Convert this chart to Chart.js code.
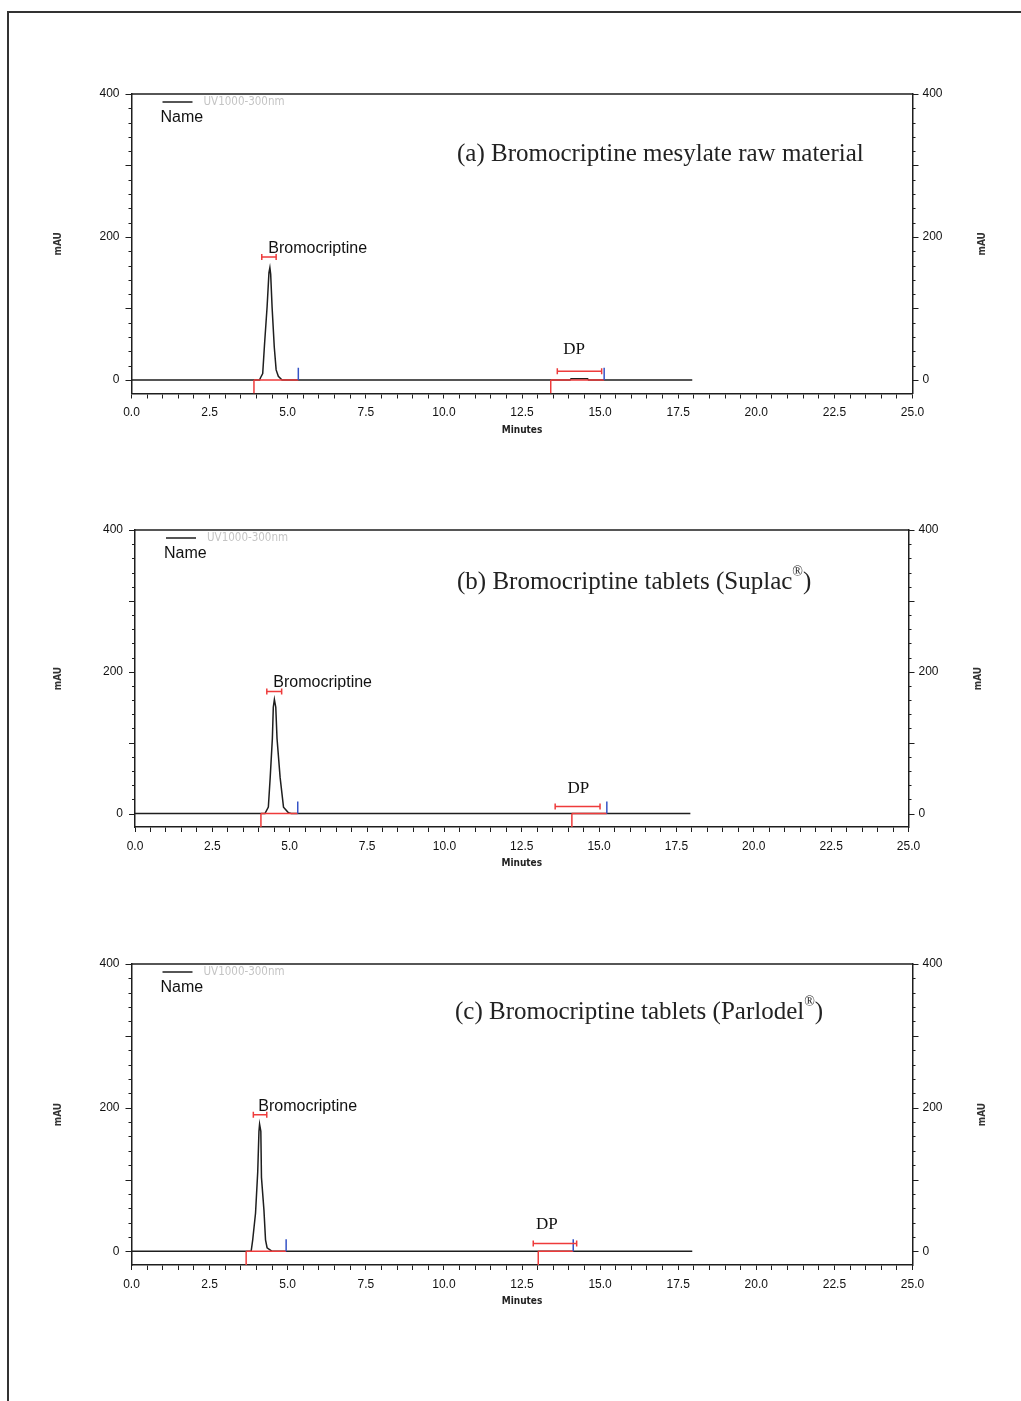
<!DOCTYPE html>
<html>
<head>
<meta charset="utf-8">
<script src="https://cdn.jsdelivr.net/npm/chart.js@4.4.1/dist/chart.umd.min.js"></script>
<style>
  body { margin: 0; background: #fff; width: 1021px; height: 1401px; overflow: hidden; position: relative; }
  #frame { position: absolute; left: 7px; top: 11px; width: 1100px; height: 1500px;
           border-left: 2px solid #333; border-top: 2px solid #333; }
  canvas { position: absolute; left: 0; }
  .cap { position: absolute; font-family: 'Liberation Serif', 'Times New Roman', serif; font-size: 25px;
         color: #222; white-space: nowrap; line-height: 1; z-index: 2; }
  .cap sup { font-size: 14px; vertical-align: top; position: relative; top: -3px; }
</style>
</head>
<body>
<div id="frame"></div>
<canvas id="chartA" width="1021" height="380" style="top:60px"></canvas>
<canvas id="chartB" width="1021" height="373" style="top:500px"></canvas>
<canvas id="chartC" width="1021" height="381" style="top:930px"></canvas>
<div class="cap" style="left:457px;top:140px">(a) Bromocriptine mesylate raw material</div>
<div class="cap" style="left:457px;top:568px">(b) Bromocriptine tablets (Suplac<sup>®</sup>)</div>
<div class="cap" style="left:455px;top:998px">(c) Bromocriptine tablets (Parlodel<sup>®</sup>)</div>

<script>
// common axis ranges
const X_MIN = 0, X_MAX = 25;
const Y_MIN = -19, Y_MAX = 400;
const yLabelTicks = [0, 200, 400];
const peakNames = ['Bromocriptine', 'DP'];

// (a) raw material: detector trace (min, mAU)
const timeA = [0, 4.10, 4.13, 4.20, 4.26, 4.34, 4.40, 4.43, 4.455, 4.50, 4.57, 4.63, 4.70, 4.82, 14.04, 14.07, 14.60, 14.63, 17.95];
const absA  = [0, 0, 3, 9, 51, 102, 150, 157, 148, 102, 46, 14, 5, 0, 0, 1.5, 1.5, 0, 0];
const peakStartA = [3.92, 13.42];
const peakEndA   = [5.34, 15.13];
const bracketLoA = [4.17, 13.63];
const bracketHiA = [4.63, 15.05];
const bracketYA  = [172, 12];
const labelXA    = [4.38, 13.82];
const labelYA    = [184, 43];

// (b) Suplac tablets
const timeB = [0, 4.20, 4.31, 4.37, 4.44, 4.47, 4.505, 4.55, 4.59, 4.69, 4.80, 4.96, 5.05, 17.95];
const absB  = [0, 0, 9, 51, 106, 150, 161, 150, 106, 51, 9, 1, 0, 0];
const peakStartB = [4.07, 14.12];
const peakEndB   = [5.26, 15.25];
const bracketLoB = [4.26, 13.58];
const bracketHiB = [4.74, 15.03];
const bracketYB  = [172, 10];
const labelXB    = [4.47, 13.98];
const labelYB    = [185, 35];

// (c) Parlodel tablets
const timeC = [0, 3.83, 3.88, 3.97, 4.04, 4.08, 4.10, 4.14, 4.16, 4.24, 4.29, 4.34, 4.50, 17.95];
const absC  = [0, 0, 16, 53, 110, 167, 177, 167, 103, 57, 16, 5, 0, 0];
const peakStartC = [3.67, 13.02];
const peakEndC   = [4.95, 14.14];
const bracketLoC = [3.90, 12.86];
const bracketHiC = [4.33, 14.25];
const bracketYC  = [190, 11];
const labelXC    = [4.06, 12.95];
const labelYC    = [202, 38];

const RED = '#ee3b3b';
const BLUE = '#3553c6';
const INK = '#1e1e1e';

function points(xs, ys) {
  return xs.map((t, i) => ({ x: t, y: ys[i] }));
}

// vertical segments at each time, separated by gaps
function verticals(times, y0, y1) {
  return times.flatMap(t => [{ x: t, y: y0 }, { x: t, y: y1 }, { x: t, y: null }]);
}

// horizontal segments from lo[i] to hi[i] at level ys (number or array)
function horizontals(lo, hi, ys) {
  return lo.flatMap((t, i) => {
    const lev = Array.isArray(ys) ? ys[i] : ys;
    return [{ x: t, y: lev }, { x: hi[i], y: lev }, { x: hi[i], y: null }];
  });
}

// frame edge, y tick marks, legend, peak names, right axis title
const decor = {
  id: 'decor',
  afterDraw(chart, args, o) {
    const { ctx, chartArea: a, scales: { x, y } } = chart;
    ctx.save();
    ctx.strokeStyle = INK;
    ctx.lineWidth = 1.5;
    ctx.beginPath();
    ctx.moveTo(a.left, a.top);
    ctx.lineTo(a.right, a.top);
    ctx.stroke();

    ctx.lineWidth = 1;
    for (let v = 0; v <= Y_MAX; v += 20) {
      const py = Math.round(y.getPixelForValue(v)) + 0.5;
      const len = v % 100 === 0 ? 6 : 3;
      ctx.beginPath();
      ctx.moveTo(a.left - len, py); ctx.lineTo(a.left, py);
      ctx.moveTo(a.right, py); ctx.lineTo(a.right + len, py);
      ctx.stroke();
    }

    // legend entry
    ctx.lineWidth = 1.5;
    ctx.beginPath();
    ctx.moveTo(a.left + 31, a.top + 8);
    ctx.lineTo(a.left + 61, a.top + 8);
    ctx.stroke();
    ctx.textBaseline = 'middle';
    ctx.textAlign = 'left';
    ctx.fillStyle = '#c4c4c4';
    ctx.font = "11.5px 'Liberation Sans Narrow', 'DejaVu Sans Condensed', sans-serif";
    ctx.fillText('UV1000-300nm', a.left + 72, a.top + 8);
    ctx.fillStyle = '#111';
    ctx.font = "16px 'Liberation Sans', Arial, sans-serif";
    ctx.fillText('Name', a.left + 29, a.top + 24);

    // peak names
    peakNames.forEach((name, i) => {
      ctx.font = i === 0 ? "16px 'Liberation Sans', Arial, sans-serif"
                         : "17px 'Liberation Serif', 'Times New Roman', serif";
      ctx.fillText(name, x.getPixelForValue(o.labelX[i]), y.getPixelForValue(o.labelY[i]));
    });

    // right axis title
    ctx.font = "bold 10px 'Liberation Sans Narrow', 'DejaVu Sans Condensed', sans-serif";
    ctx.fillStyle = '#333';
    ctx.textAlign = 'center';
    ctx.translate(a.right + 70, (a.top + a.bottom) / 2);
    ctx.rotate(-Math.PI / 2);
    ctx.fillText('mAU', 0, 0);
    ctx.restore();
  }
};

function makePanel(id, box, d) {
  const canvas = document.getElementById(id);
  const W = canvas.width;
  const tickFont = { family: "'Liberation Sans', Arial, sans-serif", size: 12 };

  const yAxis = (pos, width, pad) => ({
    type: 'linear',
    position: pos,
    min: Y_MIN,
    max: Y_MAX,
    afterBuildTicks: s => { s.ticks = yLabelTicks.map(v => ({ value: v })); },
    afterFit: s => { s.width = width; },
    grid: { display: false, drawTicks: false },
    border: { display: true, color: INK, width: 1.5 },
    ticks: { padding: pad, color: '#111', font: tickFont, autoSkip: false }
  });

  const left = yAxis('left', box.left, 12);
  left.title = {
    display: true, text: 'mAU', color: '#333',
    font: { family: "'Liberation Sans Narrow', 'DejaVu Sans Condensed', sans-serif", size: 10, weight: 'bold' },
    padding: { top: 52, bottom: 0 }
  };

  new Chart(canvas, {
    type: 'line',
    data: {
      datasets: [
        { data: horizontals(d.bracketLo, d.bracketHi, d.bracketY), borderColor: RED, borderWidth: 1.5,
          pointStyle: 'line', rotation: 90, pointRadius: 3, pointBorderColor: RED, pointBorderWidth: 1.5 },
        { data: verticals(d.peakEnd, 0, 17), borderColor: BLUE, borderWidth: 1.5, pointRadius: 0 },
        { data: verticals(d.peakStart, 0, Y_MIN), borderColor: RED, borderWidth: 1.5, pointRadius: 0 },
        { data: horizontals(d.peakStart, d.peakEnd, 0), borderColor: RED, borderWidth: 1.5, pointRadius: 0 },
        { data: points(d.time, d.abs), borderColor: INK, borderWidth: 1.5, pointRadius: 0 }
      ]
    },
    options: {
      responsive: false,
      animation: false,
      spanGaps: false,
      layout: { padding: { top: box.top, left: 0, right: 0, bottom: 0 } },
      plugins: {
        legend: { display: false },
        tooltip: { enabled: false },
        decor: { labelX: d.labelX, labelY: d.labelY }
      },
      scales: {
        x: {
          type: 'linear',
          min: X_MIN,
          max: X_MAX,
          afterFit: s => { s.height = box.xHeight; },
          grid: { drawOnChartArea: false, drawTicks: true, tickLength: 5, tickColor: INK, tickWidth: 1 },
          border: { display: true, color: INK, width: 1.5 },
          ticks: {
            stepSize: 0.5, autoSkip: false, maxRotation: 0, padding: 7, color: '#111', font: tickFont,
            callback: v => Math.abs(v / 2.5 - Math.round(v / 2.5)) < 1e-6 ? v.toFixed(1) : ''
          },
          title: {
            display: true, text: 'Minutes', color: '#222',
            font: { family: "'Liberation Sans Narrow', 'DejaVu Sans Condensed', sans-serif", size: 10, weight: 'bold' },
            padding: { top: 0, bottom: 4 }
          }
        },
        y: left,
        yR: yAxis('right', W - box.right, 10)
      }
    },
    plugins: [decor]
  });
}

makePanel('chartA', { left: 131.5, right: 912.5, top: 34, xHeight: 46.5 }, {
  time: timeA, abs: absA, peakStart: peakStartA, peakEnd: peakEndA,
  bracketLo: bracketLoA, bracketHi: bracketHiA, bracketY: bracketYA, labelX: labelXA, labelY: labelYA
});
makePanel('chartB', { left: 135, right: 908.5, top: 30, xHeight: 46 }, {
  time: timeB, abs: absB, peakStart: peakStartB, peakEnd: peakEndB,
  bracketLo: bracketLoB, bracketHi: bracketHiB, bracketY: bracketYB, labelX: labelXB, labelY: labelYB
});
makePanel('chartC', { left: 131.5, right: 912.5, top: 34, xHeight: 46 }, {
  time: timeC, abs: absC, peakStart: peakStartC, peakEnd: peakEndC,
  bracketLo: bracketLoC, bracketHi: bracketHiC, bracketY: bracketYC, labelX: labelXC, labelY: labelYC
});
</script>
</body>
</html>
